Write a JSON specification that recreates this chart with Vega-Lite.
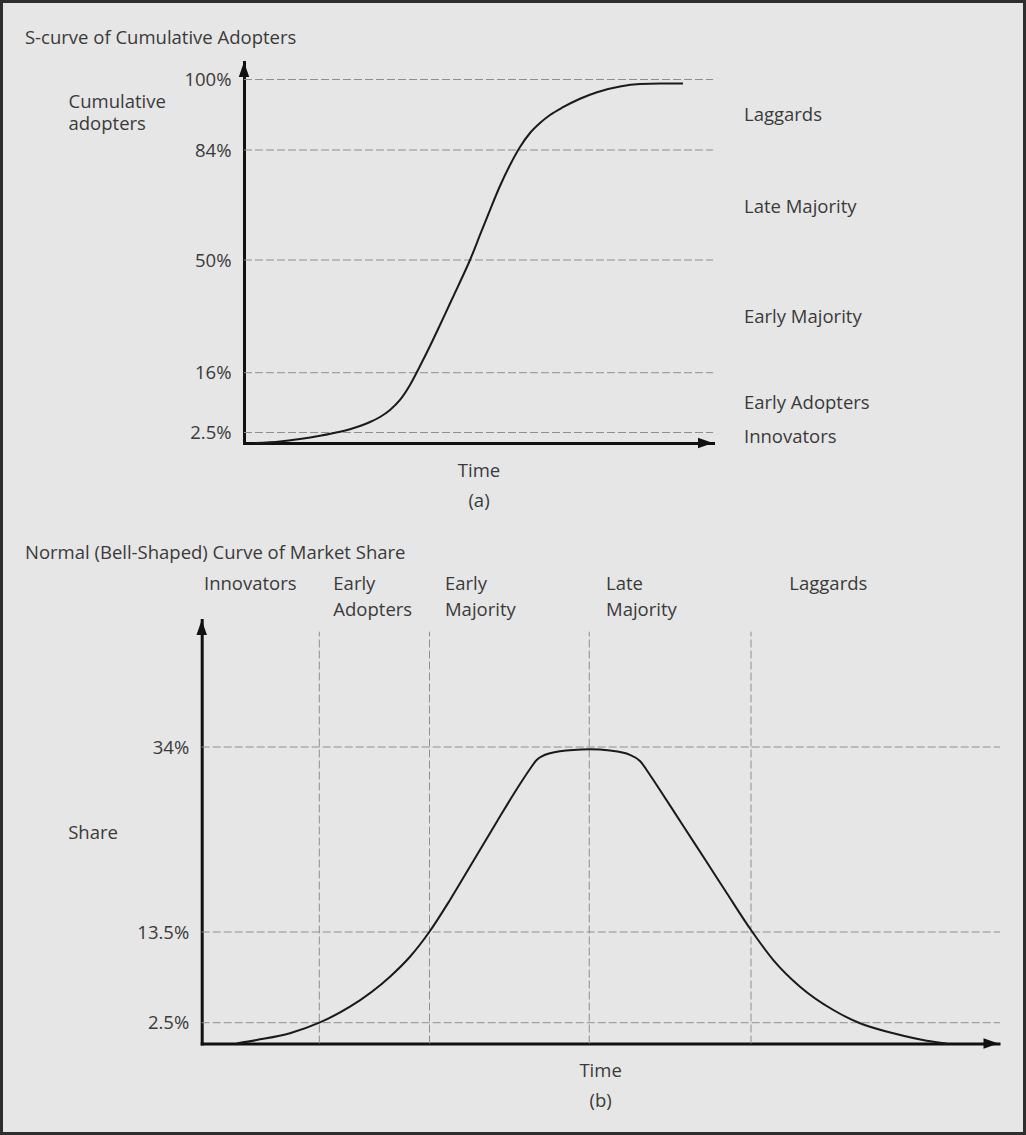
{
  "$schema": "https://vega.github.io/schema/vega-lite/v6.json",
  "background": "#2e2e2e",
  "padding": 3,
  "spacing": 0,
  "config": {
    "view": {"fill": "#e6e6e6", "stroke": null},
    "font": "Open Sans",
    "axis": {
      "labelFont": "Open Sans", "titleFont": "Open Sans",
      "labelFontSize": 18.5, "titleFontSize": 18.5,
      "labelColor": "#3a3a3a", "titleColor": "#3a3a3a",
      "titleFontWeight": "normal", "grid": false, "ticks": false, "tickSize": 0,
      "domainColor": "#111111", "domainWidth": 3, "domainCap": "square"
    }
  },
  "datasets": {
    "gridA": [
      {"t": 0, "t2": 100, "v": 2.5, "v2": 2.5},
      {"t": 0, "t2": 100, "v": 16, "v2": 16},
      {"t": 0, "t2": 100, "v": 50, "v2": 50},
      {"t": 0, "t2": 100, "v": 84, "v2": 84},
      {"t": 0, "t2": 100, "v": 100, "v2": 100}
    ],
    "curveA": [
      {"t": 2.35, "v": 0}, {"t": 7.68, "v": 0.36}, {"t": 11.94, "v": 0.95}, {"t": 16.2, "v": 1.71},
      {"t": 20.47, "v": 2.66}, {"t": 22.6, "v": 3.25}, {"t": 24.73, "v": 3.97}, {"t": 26.87, "v": 4.87},
      {"t": 29.0, "v": 6.0}, {"t": 31.13, "v": 7.58}, {"t": 33.26, "v": 9.84}, {"t": 35.39, "v": 13.22},
      {"t": 37.53, "v": 18.02}, {"t": 39.66, "v": 24.06}, {"t": 41.79, "v": 30.39}, {"t": 43.92, "v": 36.88},
      {"t": 46.06, "v": 43.36}, {"t": 48.19, "v": 50}, {"t": 50.32, "v": 57.73}, {"t": 52.45, "v": 65.45},
      {"t": 54.58, "v": 72.87}, {"t": 56.72, "v": 79.36}, {"t": 58.85, "v": 84.68}, {"t": 60.98, "v": 87.86},
      {"t": 63.11, "v": 90.13}, {"t": 65.25, "v": 91.94}, {"t": 68.02, "v": 93.71}, {"t": 71.64, "v": 95.64},
      {"t": 75.27, "v": 97.12}, {"t": 80.17, "v": 98.41}, {"t": 84.43, "v": 98.96}, {"t": 88.7, "v": 99.07},
      {"t": 93.6, "v": 99.07}
    ],
    "arrowsA": [
      {"t": 0, "v": 102.27, "dir": "up"},
      {"t": 98.4, "v": 0, "dir": "right"}
    ],
    "labelsA": [
      {"t": -46.7, "v": 109.42, "label": "S-curve of Cumulative Adopters"},
      {"t": 106.61, "v": 91.94, "label": "Laggards"},
      {"t": 106.61, "v": 66.48, "label": "Late Majority"},
      {"t": 106.61, "v": 32.89, "label": "Early Majority"},
      {"t": 106.61, "v": 9.09, "label": "Early Adopters"},
      {"t": 106.61, "v": 1.5, "label": "Innovators"}
    ],
    "gridB": [
      {"t": 0, "t2": 100.19, "v": 2.5, "v2": 2.5},
      {"t": 0, "t2": 100.19, "v": 13.5, "v2": 13.5},
      {"t": 0, "t2": 100.19, "v": 34, "v2": 34},
      {"t": 14.76, "t2": 14.76, "v": 0, "v2": 46.78},
      {"t": 28.59, "t2": 28.59, "v": 0, "v2": 46.78},
      {"t": 48.64, "t2": 48.64, "v": 0, "v2": 46.78},
      {"t": 68.94, "t2": 68.94, "v": 0, "v2": 46.78}
    ],
    "curveB": [
      {"t": 4.39, "v": 0}, {"t": 6.9, "v": 0.42}, {"t": 11.08, "v": 1.23}, {"t": 14.76, "v": 2.5},
      {"t": 18.61, "v": 4.44}, {"t": 23.63, "v": 8.08}, {"t": 26.14, "v": 10.5}, {"t": 28.56, "v": 13.5},
      {"t": 31.16, "v": 17.05}, {"t": 34.09, "v": 21.37}, {"t": 37.02, "v": 25.69}, {"t": 39.95, "v": 29.9},
      {"t": 41.2, "v": 31.56}, {"t": 42.04, "v": 32.56}, {"t": 43.71, "v": 33.31}, {"t": 46.64, "v": 33.68},
      {"t": 48.64, "v": 33.74}, {"t": 51.24, "v": 33.6}, {"t": 53.75, "v": 33.13}, {"t": 55.0, "v": 32.45},
      {"t": 56.26, "v": 30.9}, {"t": 57.51, "v": 29.24}, {"t": 60.44, "v": 25.25}, {"t": 63.38, "v": 21.26},
      {"t": 65.89, "v": 17.82}, {"t": 68.94, "v": 13.72}, {"t": 71.74, "v": 10.1}, {"t": 75.09, "v": 6.87},
      {"t": 79.27, "v": 4.04}, {"t": 82.62, "v": 2.43}, {"t": 86.8, "v": 1.23}, {"t": 90.99, "v": 0.34},
      {"t": 93.5, "v": 0}
    ],
    "arrowsB": [
      {"t": 0, "v": 47.25, "dir": "up"},
      {"t": 99.06, "v": 0, "dir": "right"}
    ],
    "titleB": [
      {"t": -22.18, "v": 55.54, "label": "Normal (Bell-Shaped) Curve of Market Share"}
    ],
    "phasesB": [
      {"t": 0.29, "v": 53.06, "label": "Innovators"},
      {"t": 16.52, "v": 53.06, "label": "Early\nAdopters"},
      {"t": 30.53, "v": 53.06, "label": "Early\nMajority"},
      {"t": 50.74, "v": 53.06, "label": "Late\nMajority"},
      {"t": 73.75, "v": 53.06, "label": "Laggards"}
    ]
  },
  "vconcat": [
    {
      "width": 1020,
      "height": 517,
      "encoding": {
        "x": {
          "field": "t", "type": "quantitative",
          "scale": {"domain": [0, 100], "range": [241, 710], "nice": false, "zero": false},
          "axis": {"offset": -77, "labels": false, "title": ["Time", "(a)"], "titlePadding": 18, "titleLineHeight": 30}
        },
        "y": {
          "field": "v", "type": "quantitative",
          "scale": {"domain": [0, 2.5, 16, 50, 84, 100, 104], "range": [440, 429.5, 369.7, 257, 147, 76.5, 58.9], "nice": false, "zero": false},
          "axis": {
            "offset": -241, "values": [2.5, 16, 50, 84, 100], "labelExpr": "datum.value + '%'", "labelPadding": 13,
            "title": ["Cumulative", "adopters"], "titleAngle": 0, "titleAlign": "left", "titleBaseline": "top",
            "titleX": -176, "titleY": 89, "titleLineHeight": 22.5
          }
        }
      },
      "layer": [
        {
          "data": {"name": "gridA"},
          "mark": {"type": "rule", "color": "#8f8f8f", "strokeWidth": 1, "strokeDash": [8, 3]},
          "encoding": {"x2": {"field": "t2"}, "y2": {"field": "v2"}}
        },
        {
          "data": {"name": "curveA"},
          "mark": {"type": "line", "interpolate": "monotone", "color": "#1a1a1a", "strokeWidth": 2},
          "encoding": {}
        },
        {
          "data": {"name": "arrowsA"},
          "mark": {"type": "point", "filled": true, "size": 225, "color": "#111111", "opacity": 1},
          "encoding": {
            "shape": {"field": "dir", "type": "nominal", "legend": null,
              "scale": {"domain": ["up", "right"], "range": ["M-0.7,1L0,-1L0.7,1Z", "M-1,-0.7L1,0L-1,0.7Z"]}}
          }
        },
        {
          "data": {"name": "labelsA"},
          "mark": {"type": "text", "align": "left", "baseline": "middle", "font": "Open Sans", "fontSize": 18.5, "color": "#3a3a3a"},
          "encoding": {"text": {"field": "label"}}
        }
      ]
    },
    {
      "width": 1020,
      "height": 612,
      "encoding": {
        "x": {
          "field": "t", "type": "quantitative",
          "scale": {"domain": [0, 100], "range": [198.7, 995.5], "nice": false, "zero": false},
          "axis": {"offset": -88.5, "labels": false, "title": ["Time", "(b)"], "titlePadding": 18, "titleLineHeight": 30}
        },
        "y": {
          "field": "v", "type": "quantitative",
          "scale": {"domain": [0, 2.5, 13.5, 34, 48.08], "range": [523.5, 502.7, 412, 227, 100], "nice": false, "zero": false},
          "axis": {
            "offset": -198.7, "values": [2.5, 13.5, 34], "labelExpr": "datum.value + '%'", "labelPadding": 13,
            "title": "Share", "titleAngle": 0, "titleAlign": "left", "titleBaseline": "middle",
            "titleX": -134, "titleY": 312
          }
        }
      },
      "layer": [
        {
          "data": {"name": "gridB"},
          "mark": {"type": "rule", "color": "#8f8f8f", "strokeWidth": 1, "strokeDash": [8, 3]},
          "encoding": {"x2": {"field": "t2"}, "y2": {"field": "v2"}}
        },
        {
          "data": {"name": "curveB"},
          "mark": {"type": "line", "interpolate": "monotone", "color": "#1a1a1a", "strokeWidth": 2},
          "encoding": {}
        },
        {
          "data": {"name": "arrowsB"},
          "mark": {"type": "point", "filled": true, "size": 225, "color": "#111111", "opacity": 1},
          "encoding": {
            "shape": {"field": "dir", "type": "nominal", "legend": null,
              "scale": {"domain": ["up", "right"], "range": ["M-0.7,1L0,-1L0.7,1Z", "M-1,-0.7L1,0L-1,0.7Z"]}}
          }
        },
        {
          "data": {"name": "titleB"},
          "mark": {"type": "text", "align": "left", "baseline": "middle", "font": "Open Sans", "fontSize": 18.5, "color": "#3a3a3a"},
          "encoding": {"text": {"field": "label"}}
        },
        {
          "data": {"name": "phasesB"},
          "mark": {"type": "text", "align": "left", "baseline": "top", "lineBreak": "\n", "lineHeight": 25.5, "font": "Open Sans", "fontSize": 18.5, "color": "#3a3a3a"},
          "encoding": {"text": {"field": "label"}}
        }
      ]
    }
  ]
}
